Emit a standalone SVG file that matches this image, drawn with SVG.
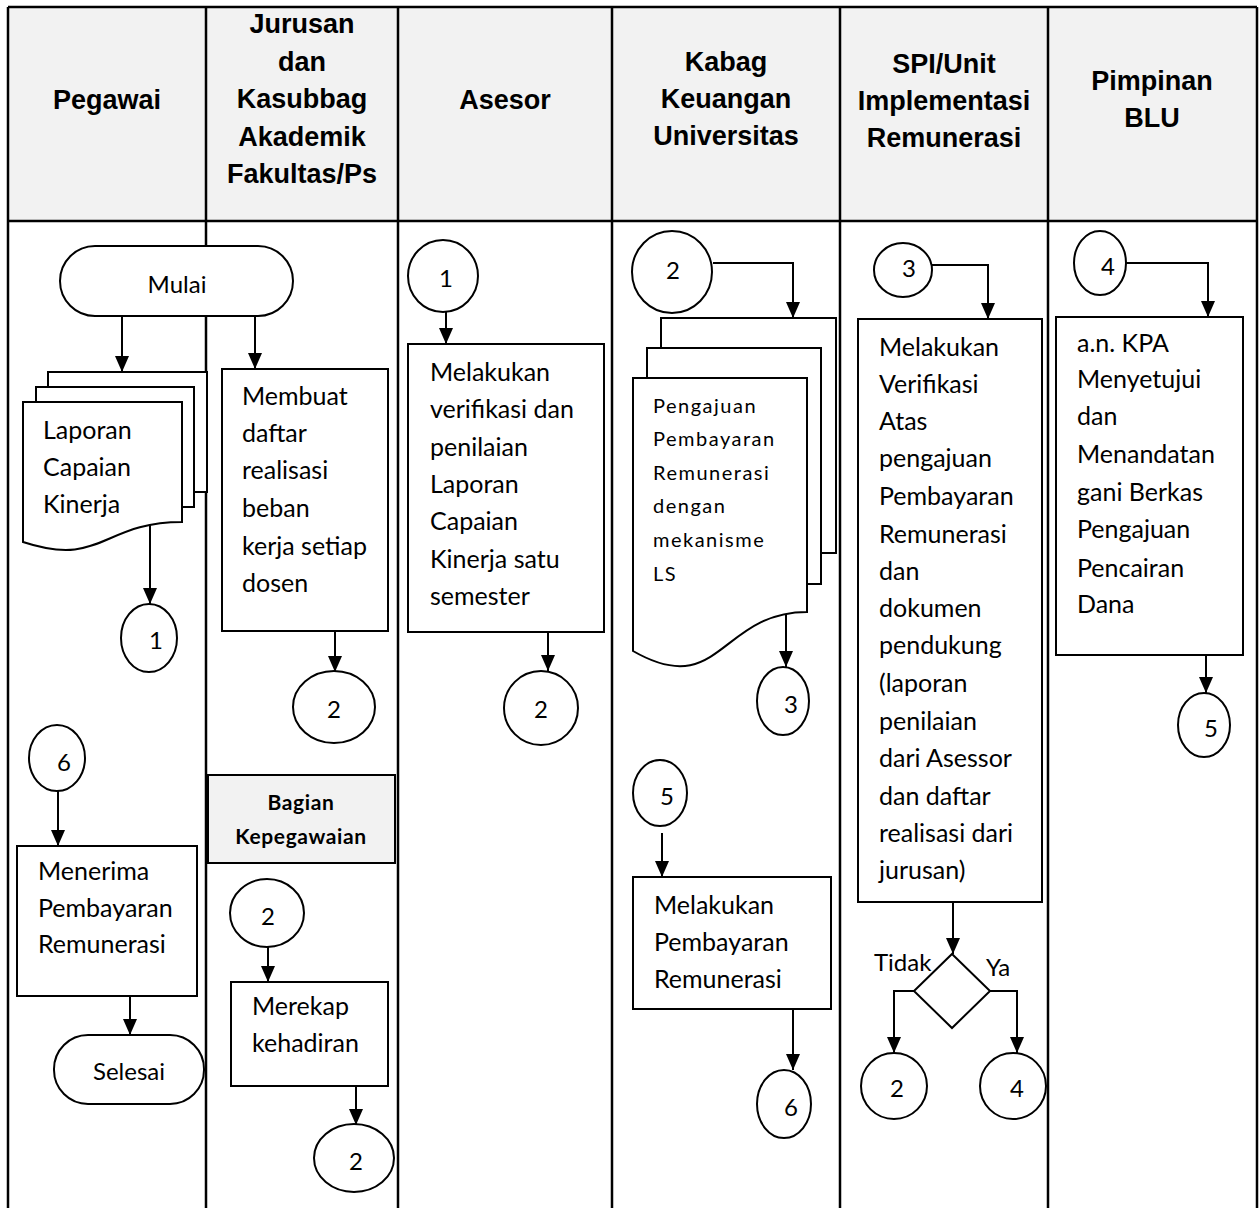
<svg xmlns="http://www.w3.org/2000/svg" width="1260" height="1208" viewBox="0 0 1260 1208">
  <defs>
    <style>
      .lane { stroke: #000; stroke-width: 2.5; fill: none; }
      .box { fill: #fff; stroke: #000; stroke-width: 2; }
      .ln { stroke: #000; stroke-width: 2; fill: none; marker-end: url(#ah); }
      .h { font-family: "Liberation Sans", Arial, sans-serif; font-weight: bold; font-size: 27px; text-anchor: middle; fill: #000; }
      .t { font-family: Lato, "Open Sans", sans-serif; font-size: 25px; fill: #000; }
      .lbl { font-family: Lato, "Open Sans", sans-serif; font-size: 24px; fill: #000; }
      .s { font-family: Lato, "Open Sans", sans-serif; font-size: 20px; fill: #000; letter-spacing: 1.5px; }
      .c { font-family: Lato, "Open Sans", sans-serif; font-size: 24px; fill: #000; text-anchor: middle; }
      .b { font-family: Lato, "Open Sans", sans-serif; font-size: 21px; font-weight: bold; fill: #000; text-anchor: middle; letter-spacing: 0.6px; }
    </style>
    <marker id="ah" viewBox="0 0 16 14" refX="16" refY="7" markerUnits="userSpaceOnUse" markerWidth="16" markerHeight="14" orient="auto">
      <path d="M0,0 L16,7 L0,14 Z" fill="#000"/>
    </marker>
  </defs>

  <!-- swimlane table -->
  <g id="lanes">
    <rect x="8" y="7" width="1249" height="214" fill="#f2f2f2"/>
    <line class="lane" x1="8" y1="7" x2="1257" y2="7"/>
    <line class="lane" x1="8" y1="221" x2="1257" y2="221"/>
    <line class="lane" x1="8" y1="7" x2="8" y2="1208"/>
    <line class="lane" x1="206" y1="7" x2="206" y2="1208"/>
    <line class="lane" x1="398" y1="7" x2="398" y2="1208"/>
    <line class="lane" x1="612" y1="7" x2="612" y2="1208"/>
    <line class="lane" x1="840" y1="7" x2="840" y2="1208"/>
    <line class="lane" x1="1048" y1="7" x2="1048" y2="1208"/>
    <line class="lane" x1="1257" y1="7" x2="1257" y2="1208"/>
    <text class="h" x="107" y="109">Pegawai</text>
    <text class="h" x="302"><tspan x="302" y="33">Jurusan</tspan><tspan x="302" y="71">dan</tspan><tspan x="302" y="108">Kasubbag</tspan><tspan x="302" y="146">Akademik</tspan><tspan x="302" y="183">Fakultas/Ps</tspan></text>
    <text class="h" x="505" y="109">Asesor</text>
    <text class="h" x="726"><tspan x="726" y="71">Kabag</tspan><tspan x="726" y="108">Keuangan</tspan><tspan x="726" y="145">Universitas</tspan></text>
    <text class="h" x="944"><tspan x="944" y="73">SPI/Unit</tspan><tspan x="944" y="110">Implementasi</tspan><tspan x="944" y="147">Remunerasi</tspan></text>
    <text class="h" x="1152"><tspan x="1152" y="90">Pimpinan</tspan><tspan x="1152" y="127">BLU</tspan></text>
  </g>

  <!-- connectors -->
  <g id="connectors">
    <path class="ln" d="M122,316 V372"/>
    <path class="ln" d="M255,316 V369"/>
    <path class="ln" d="M150,522 V604"/>
    <path class="ln" d="M335,631 V672"/>
    <path class="ln" d="M446,312 V344"/>
    <path class="ln" d="M548,632 V671"/>
    <path class="ln" d="M713,263 H793 V318"/>
    <path class="ln" d="M786,612 V667"/>
    <path class="ln" d="M662,833 V877"/>
    <path class="ln" d="M793,1009 V1070"/>
    <path class="ln" d="M932,265 H988 V319"/>
    <path class="ln" d="M953,902 V954"/>
    <path class="ln" d="M914,991 H894 V1053"/>
    <path class="ln" d="M989,991 H1017 V1053"/>
    <path class="ln" d="M1125,263 H1208 V317"/>
    <path class="ln" d="M1206,655 V693"/>
    <path class="ln" d="M58,791 V846"/>
    <path class="ln" d="M130,996 V1035"/>
    <path class="ln" d="M268,947 V982"/>
    <path class="ln" d="M356,1086 V1125"/>
  </g>

  <!-- Pegawai lane -->
  <g id="mulai">
    <rect class="box" x="60" y="246" width="233" height="70" rx="35"/>
    <text class="c" x="177" y="293">Mulai</text>
  </g>
  <g id="laporan-capaian">
    <rect class="box" x="48" y="372" width="159" height="120"/>
    <rect class="box" x="36" y="387" width="158" height="120"/>
    <path class="box" d="M23,402 H182 V522 C102,522 102,568 23,542 Z"/>
    <text class="t"><tspan x="43" y="439">Laporan</tspan><tspan x="43" y="476">Capaian</tspan><tspan x="43" y="513">Kinerja</tspan></text>
  </g>
  <g id="off-1-pegawai">
    <ellipse class="box" cx="149" cy="638" rx="28" ry="34"/>
    <text class="c" x="156" y="649">1</text>
  </g>
  <g id="off-6-pegawai">
    <ellipse class="box" cx="57" cy="758" rx="28" ry="33"/>
    <text class="c" x="64" y="771">6</text>
  </g>
  <g id="menerima">
    <rect class="box" x="17" y="846" width="180" height="150"/>
    <text class="t"><tspan x="38" y="880">Menerima</tspan><tspan x="38" y="917">Pembayaran</tspan><tspan x="38" y="953">Remunerasi</tspan></text>
  </g>
  <g id="selesai">
    <rect class="box" x="54" y="1035" width="150" height="69" rx="34"/>
    <text class="c" x="129" y="1080">Selesai</text>
  </g>

  <!-- Jurusan lane -->
  <g id="membuat-daftar">
    <rect class="box" x="222" y="369" width="166" height="262"/>
    <text class="t"><tspan x="242" y="405">Membuat</tspan><tspan x="242" y="442">daftar</tspan><tspan x="242" y="479">realisasi</tspan><tspan x="242" y="517">beban</tspan><tspan x="242" y="555">kerja setiap</tspan><tspan x="242" y="592">dosen</tspan></text>
  </g>
  <g id="off-2-jurusan">
    <ellipse class="box" cx="334" cy="707" rx="41" ry="36"/>
    <text class="c" x="334" y="718">2</text>
  </g>
  <g id="bagian-kepegawaian">
    <rect x="208" y="775" width="187" height="88" fill="#f2f2f2" stroke="#000" stroke-width="2"/>
    <text class="b"><tspan x="301" y="810">Bagian</tspan><tspan x="301" y="844">Kepegawaian</tspan></text>
  </g>
  <g id="off-2-kepegawaian-in">
    <ellipse class="box" cx="267" cy="913" rx="37" ry="34"/>
    <text class="c" x="268" y="925">2</text>
  </g>
  <g id="merekap">
    <rect class="box" x="231" y="982" width="157" height="104"/>
    <text class="t"><tspan x="252" y="1015">Merekap</tspan><tspan x="252" y="1052">kehadiran</tspan></text>
  </g>
  <g id="off-2-kepegawaian-out">
    <ellipse class="box" cx="354" cy="1158" rx="40" ry="34"/>
    <text class="c" x="356" y="1170">2</text>
  </g>

  <!-- Asesor lane -->
  <g id="off-1-asesor">
    <ellipse class="box" cx="443" cy="276" rx="35" ry="36"/>
    <text class="c" x="446" y="287">1</text>
  </g>
  <g id="verifikasi-penilaian">
    <rect class="box" x="408" y="344" width="196" height="288"/>
    <text class="t"><tspan x="430" y="381">Melakukan</tspan><tspan x="430" y="418">verifikasi dan</tspan><tspan x="430" y="456">penilaian</tspan><tspan x="430" y="493">Laporan</tspan><tspan x="430" y="530">Capaian</tspan><tspan x="430" y="568">Kinerja satu</tspan><tspan x="430" y="605">semester</tspan></text>
  </g>
  <g id="off-2-asesor">
    <ellipse class="box" cx="541" cy="708" rx="37" ry="37"/>
    <text class="c" x="541" y="718">2</text>
  </g>

  <!-- Kabag Keuangan lane -->
  <g id="off-2-kabag">
    <ellipse class="box" cx="672" cy="272" rx="40" ry="41"/>
    <text class="c" x="673" y="279">2</text>
  </g>
  <g id="pengajuan-pembayaran">
    <rect class="box" x="661" y="318" width="175" height="235"/>
    <rect class="box" x="647" y="348" width="174" height="236"/>
    <path class="box" d="M633,378 H807 V612 C720,612 720,701 633,651 Z"/>
    <text class="s"><tspan x="653" y="413">Pengajuan</tspan><tspan x="653" y="446">Pembayaran</tspan><tspan x="653" y="480">Remunerasi</tspan><tspan x="653" y="513">dengan</tspan><tspan x="653" y="547">mekanisme</tspan><tspan x="653" y="581">LS</tspan></text>
  </g>
  <g id="off-3-kabag">
    <ellipse class="box" cx="783" cy="701" rx="26" ry="34"/>
    <text class="c" x="791" y="713">3</text>
  </g>
  <g id="off-5-kabag">
    <ellipse class="box" cx="660" cy="793" rx="27" ry="33"/>
    <text class="c" x="667" y="805">5</text>
  </g>
  <g id="melakukan-pembayaran">
    <rect class="box" x="633" y="877" width="198" height="132"/>
    <text class="t"><tspan x="654" y="914">Melakukan</tspan><tspan x="654" y="951">Pembayaran</tspan><tspan x="654" y="988">Remunerasi</tspan></text>
  </g>
  <g id="off-6-kabag">
    <ellipse class="box" cx="784" cy="1104" rx="27" ry="34"/>
    <text class="c" x="791" y="1116">6</text>
  </g>

  <!-- SPI lane -->
  <g id="off-3-spi">
    <ellipse class="box" cx="903" cy="270" rx="29" ry="27"/>
    <text class="c" x="909" y="277">3</text>
  </g>
  <g id="verifikasi-spi">
    <rect class="box" x="858" y="319" width="184" height="583"/>
    <text class="t"><tspan x="879" y="356">Melakukan</tspan><tspan x="879" y="393">Verifikasi</tspan><tspan x="879" y="430">Atas</tspan><tspan x="879" y="467">pengajuan</tspan><tspan x="879" y="505">Pembayaran</tspan><tspan x="879" y="543">Remunerasi</tspan><tspan x="879" y="580">dan</tspan><tspan x="879" y="617">dokumen</tspan><tspan x="879" y="654">pendukung</tspan><tspan x="879" y="692">(laporan</tspan><tspan x="879" y="730">penilaian</tspan><tspan x="879" y="767">dari Asessor</tspan><tspan x="879" y="805">dan daftar</tspan><tspan x="879" y="842">realisasi dari</tspan><tspan x="879" y="879">jurusan)</tspan></text>
  </g>
  <g id="keputusan">
    <path class="box" d="M952,954 L990,991 L952,1028 L914,991 Z"/>
    <text class="lbl" x="874" y="971">Tidak</text>
    <text class="lbl" x="986" y="976">Ya</text>
  </g>
  <g id="off-2-spi">
    <ellipse class="box" cx="894" cy="1086" rx="33" ry="33"/>
    <text class="c" x="897" y="1097">2</text>
  </g>
  <g id="off-4-spi">
    <ellipse class="box" cx="1013" cy="1086" rx="33" ry="33"/>
    <text class="c" x="1017" y="1097">4</text>
  </g>

  <!-- Pimpinan BLU lane -->
  <g id="off-4-pimpinan">
    <ellipse class="box" cx="1100" cy="263" rx="26" ry="32"/>
    <text class="c" x="1108" y="275">4</text>
  </g>
  <g id="persetujuan-kpa">
    <rect class="box" x="1056" y="317" width="187" height="338"/>
    <text class="t"><tspan x="1077" y="352">a.n. KPA</tspan><tspan x="1077" y="388">Menyetujui</tspan><tspan x="1077" y="425">dan</tspan><tspan x="1077" y="463">Menandatan</tspan><tspan x="1077" y="501">gani Berkas</tspan><tspan x="1077" y="538">Pengajuan</tspan><tspan x="1077" y="577">Pencairan</tspan><tspan x="1077" y="613">Dana</tspan></text>
  </g>
  <g id="off-5-pimpinan">
    <ellipse class="box" cx="1204" cy="725" rx="26" ry="32"/>
    <text class="c" x="1211" y="737">5</text>
  </g>
</svg>
